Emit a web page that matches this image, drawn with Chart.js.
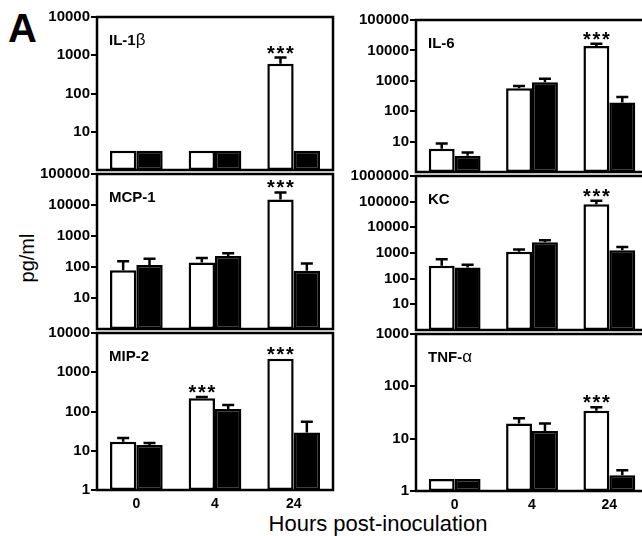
<!DOCTYPE html>
<html>
<head>
<meta charset="utf-8">
<script src="https://cdn.jsdelivr.net/npm/chart.js@4.4.1/dist/chart.umd.min.js"></script>
<style>
  html, body { margin: 0; padding: 0; background: #fff; }
  body { width: 642px; height: 536px; overflow: hidden; position: relative;
         font-family: "Liberation Sans", Arial, sans-serif; color: #000; }
  canvas { position: absolute; }
  .lbl { position: absolute; white-space: nowrap; }
</style>
</head>
<body>
<div class="lbl" style="left:8px;top:8px;font-size:40px;line-height:40px;font-weight:bold;">A</div>
<div class="lbl" style="left:27px;top:258px;font-size:20px;line-height:20px;transform:translate(-50%,-50%) rotate(-90deg);">pg/ml</div>
<div class="lbl" style="left:378px;top:513px;font-size:22px;line-height:22px;transform:translateX(-50%);">Hours post-inoculation</div>
<script>
// ============================================================================
// Data (pg/ml, mean and SEM, white = first group, black = second group)
// ============================================================================

const HOURS = ['0', '4', '24'];

const IL1B_WHITE = [3.2, 3.2, 600];
const IL1B_WHITE_SEM = [0, 0, 270];
const IL1B_BLACK = [3.2, 3.2, 3.2];
const IL1B_BLACK_SEM = [0, 0, 0];
const IL1B_SIG = ['', '', '***'];
const IL1B_TICKS = [1, 10, 100, 1000, 10000];

const MCP1_WHITE = [79, 139, 15000];
const MCP1_WHITE_SEM = [73, 56, 10500];
const MCP1_BLACK = [116, 225, 75];
const MCP1_BLACK_SEM = [69, 55, 54];
const MCP1_SIG = ['', '', '***'];
const MCP1_TICKS = [1, 10, 100, 1000, 10000, 100000];

const MIP2_WHITE = [17, 217, 2215];
const MIP2_WHITE_SEM = [4, 17, 0];
const MIP2_BLACK = [14, 116, 29];
const MIP2_BLACK_SEM = [1.8, 31, 26];
const MIP2_SIG = ['', '***', '***'];
const MIP2_TICKS = [1, 10, 100, 1000, 10000];

const IL6_WHITE = [5.8, 570, 14000];
const IL6_WHITE_SEM = [2.9, 110, 2700];
const IL6_BLACK = [3.4, 890, 194];
const IL6_BLACK_SEM = [1.0, 280, 99];
const IL6_SIG = ['', '', '***'];
const IL6_TICKS = [1, 10, 100, 1000, 10000, 100000];

const KC_WHITE = [320, 1130, 79000];
const KC_WHITE_SEM = [250, 250, 30000];
const KC_BLACK = [270, 2650, 1270];
const KC_BLACK_SEM = [80, 510, 440];
const KC_SIG = ['', '', '***'];
const KC_TICKS = [1, 10, 100, 1000, 10000, 100000, 1000000];

const TNFA_WHITE = [1.7, 19.4, 34];
const TNFA_WHITE_SEM = [0, 5.1, 6];
const TNFA_BLACK = [1.7, 14, 2.0];
const TNFA_BLACK_SEM = [0, 5.4, 0.5];
const TNFA_SIG = ['', '', '***'];
const TNFA_TICKS = [1, 10, 100, 1000];

// ============================================================================
// Layout
// ============================================================================

const FONT = '"Liberation Sans", Arial, sans-serif';
const PAD_TOP = 12;
const LINE_W = 2.5;

const COLUMNS = {
  left:  { canvasX: 0,   canvasW: 342, areaLeft: 97,  areaRight: 333 },
  right: { canvasX: 320, canvasW: 340, areaLeft: 416, areaRight: 648 }
};

const PANELS = [
  { col: 'left',  top: 17,  bottom: 174, title: 'IL-1β', white: IL1B_WHITE, whiteSem: IL1B_WHITE_SEM, black: IL1B_BLACK, blackSem: IL1B_BLACK_SEM, sig: IL1B_SIG, ticks: IL1B_TICKS, showX: false },
  { col: 'left',  top: 174, bottom: 333, title: 'MCP-1', white: MCP1_WHITE, whiteSem: MCP1_WHITE_SEM, black: MCP1_BLACK, blackSem: MCP1_BLACK_SEM, sig: MCP1_SIG, ticks: MCP1_TICKS, showX: false },
  { col: 'left',  top: 333, bottom: 490, title: 'MIP-2', white: MIP2_WHITE, whiteSem: MIP2_WHITE_SEM, black: MIP2_BLACK, blackSem: MIP2_BLACK_SEM, sig: MIP2_SIG, ticks: MIP2_TICKS, showX: true },
  { col: 'right', top: 20,  bottom: 176, title: 'IL-6',  white: IL6_WHITE,  whiteSem: IL6_WHITE_SEM,  black: IL6_BLACK,  blackSem: IL6_BLACK_SEM,  sig: IL6_SIG,  ticks: IL6_TICKS,  showX: false },
  { col: 'right', top: 176, bottom: 334, title: 'KC',    white: KC_WHITE,   whiteSem: KC_WHITE_SEM,   black: KC_BLACK,   blackSem: KC_BLACK_SEM,   sig: KC_SIG,   ticks: KC_TICKS,   showX: false },
  { col: 'right', top: 334, bottom: 491, title: 'TNF-α', white: TNFA_WHITE, whiteSem: TNFA_WHITE_SEM, black: TNFA_BLACK, blackSem: TNFA_BLACK_SEM, sig: TNFA_SIG, ticks: TNFA_TICKS, showX: true }
];

// ============================================================================
// Plugin: frame, panel title, error bars, significance stars
// ============================================================================

function decoPlugin(p) {
  return {
    id: 'deco',
    afterDatasetsDraw(chart) {
      const ctx = chart.ctx;
      const y = chart.scales.y;
      const sems = [p.whiteSem, p.blackSem];
      ctx.save();
      ctx.strokeStyle = '#000';
      ctx.fillStyle = '#000';
      ctx.lineWidth = LINE_W;
      [0, 1].forEach(di => {
        const ds = chart.data.datasets[di];
        chart.getDatasetMeta(di).data.forEach((bar, i) => {
          const sem = sems[di][i];
          const errY = y.getPixelForValue(ds.data[i] + sem);
          if (sem > 0) {
            ctx.beginPath();
            ctx.moveTo(bar.x, bar.y);
            ctx.lineTo(bar.x, errY);
            ctx.moveTo(bar.x - 6, errY);
            ctx.lineTo(bar.x + 6, errY);
            ctx.stroke();
          }
          if (di === 0 && p.sig[i]) {
            ctx.font = 'bold 20px ' + FONT;
            ctx.textAlign = 'center';
            ctx.textBaseline = 'alphabetic';
            const n = p.sig[i].length;
            for (let k = 0; k < n; k++) {
              ctx.fillText('*', bar.x + (k - (n - 1) / 2) * 9.5, errY + 2);
            }
          }
        });
      });
      ctx.restore();
    },
    afterDraw(chart) {
      const ctx = chart.ctx;
      const a = chart.chartArea;
      ctx.save();
      ctx.strokeStyle = '#000';
      ctx.lineWidth = LINE_W;
      ctx.strokeRect(a.left, a.top, a.right - a.left, a.bottom - a.top);
      // title, greek letters in regular weight
      let x = a.left + 12;
      ctx.fillStyle = '#000';
      ctx.textBaseline = 'alphabetic';
      ctx.textAlign = 'left';
      for (const ch of p.title) {
        ctx.font = /[\u0370-\u03ff]/.test(ch) ? '17px ' + FONT : 'bold 15px ' + FONT;
        ctx.fillText(ch, x, a.top + 28);
        x += ctx.measureText(ch).width;
      }
      ctx.restore();
    }
  };
}

// ============================================================================
// Build panels
// ============================================================================

function buildPanel(p) {
  const col = COLUMNS[p.col];
  const areaH = p.bottom - p.top;
  const padBottom = p.showX ? 0 : 6;
  const xAxisH = p.showX ? 30 : 0;
  const yAxisW = col.areaLeft - col.canvasX;

  const canvas = document.createElement('canvas');
  canvas.width = col.canvasW;
  canvas.height = areaH + PAD_TOP + padBottom + xAxisH;
  canvas.style.left = col.canvasX + 'px';
  canvas.style.top = (p.top - PAD_TOP) + 'px';
  document.body.appendChild(canvas);

  const tickVals = p.showX ? p.ticks : p.ticks.slice(1);
  const yMin = p.ticks[0];
  const yMax = p.ticks[p.ticks.length - 1];

  return new Chart(canvas.getContext('2d'), {
    type: 'bar',
    data: {
      labels: HOURS,
      datasets: [
        { data: p.white, backgroundColor: '#fff', borderColor: '#000', borderWidth: LINE_W, borderSkipped: false },
        { data: p.black, backgroundColor: '#000', borderColor: '#000', borderWidth: LINE_W, borderSkipped: false }
      ]
    },
    options: {
      responsive: false,
      animation: false,
      layout: {
        padding: { top: PAD_TOP, bottom: padBottom, left: 0, right: col.canvasX + col.canvasW - col.areaRight }
      },
      datasets: { bar: { categoryPercentage: 0.67, barPercentage: 1.0 } },
      plugins: { legend: { display: false }, tooltip: { enabled: false } },
      scales: {
        x: {
          display: p.showX,
          grid: { display: false, drawTicks: false },
          border: { display: false },
          ticks: { color: '#000', padding: 6, font: { family: FONT, size: 14, weight: 'bold' } },
          afterFit: s => { s.height = xAxisH; }
        },
        y: {
          type: 'logarithmic',
          min: yMin,
          max: yMax,
          border: { display: false },
          grid: { drawOnChartArea: false, drawTicks: true, tickLength: 6, color: '#000', lineWidth: 2 },
          ticks: {
            autoSkip: false,
            color: '#000',
            padding: 1,
            font: { family: FONT, size: 15, weight: 'bold' },
            callback: v => String(v)
          },
          afterBuildTicks: s => { s.ticks = tickVals.map(v => ({ value: v })); },
          afterFit: s => { s.width = yAxisW; }
        }
      }
    },
    plugins: [decoPlugin(p)]
  });
}

PANELS.forEach(buildPanel);
</script>
</body>
</html>
